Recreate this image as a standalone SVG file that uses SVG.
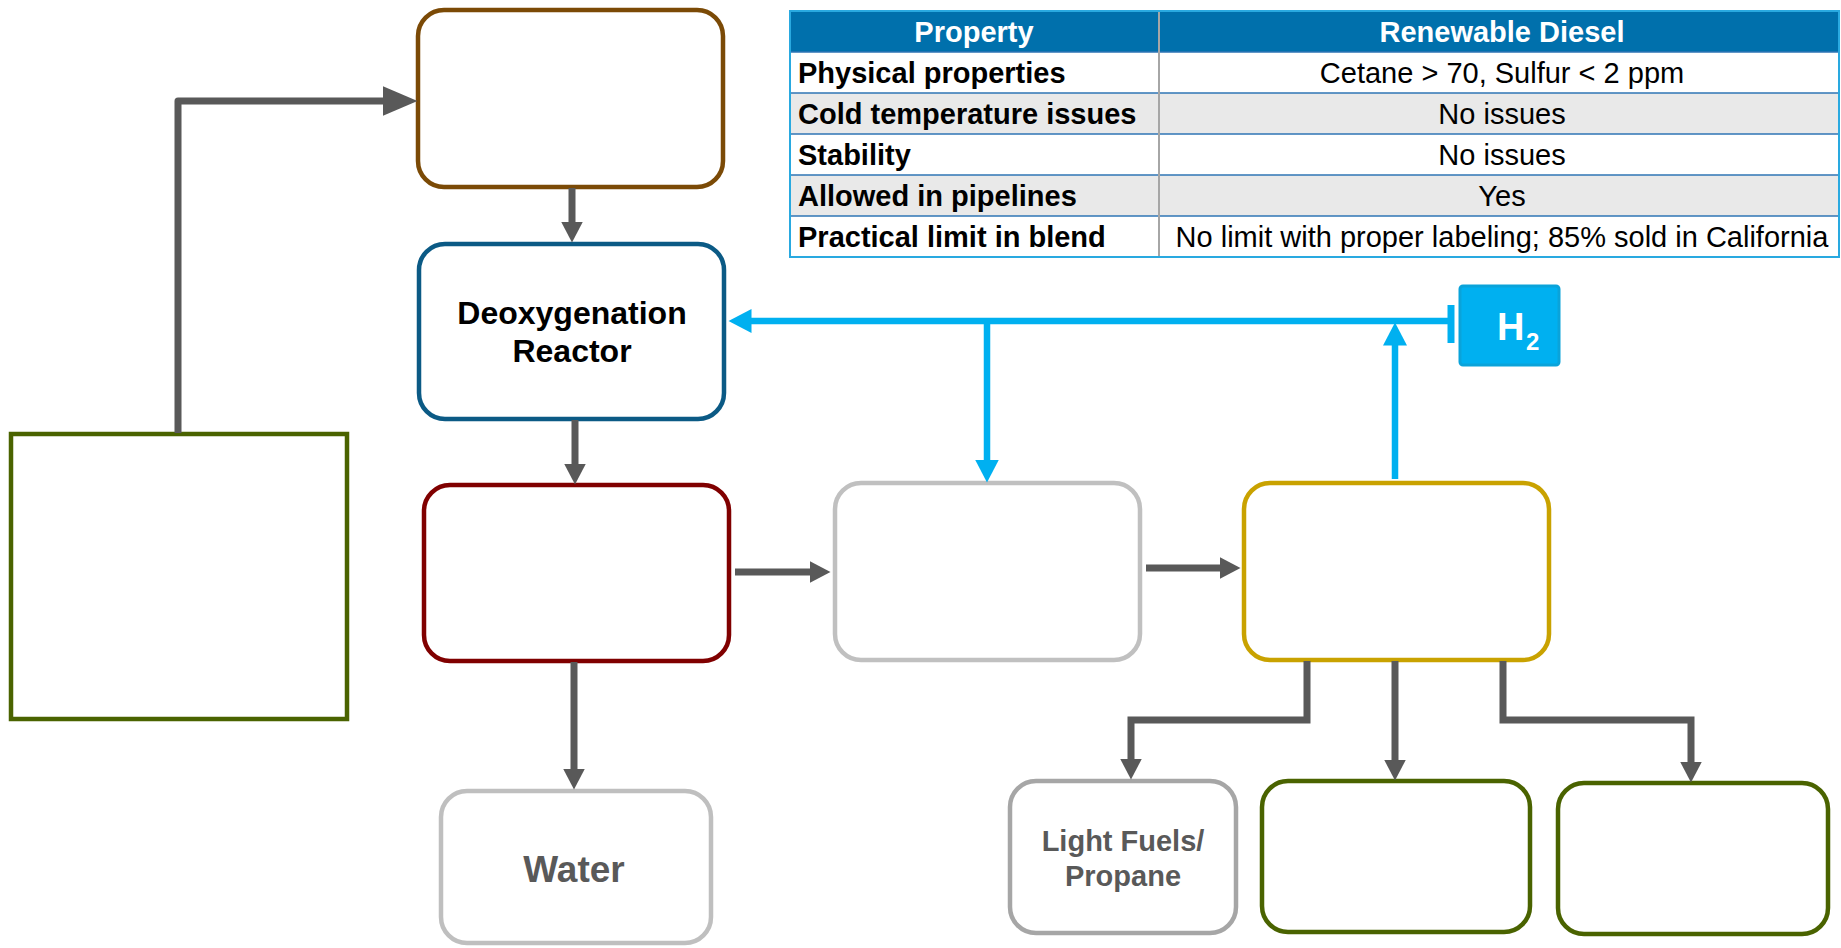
<svg xmlns="http://www.w3.org/2000/svg" width="1841" height="948" viewBox="0 0 1841 948">
<defs>
<style>
.box{fill:#fff;stroke-width:4.5}
.conn{fill:none;stroke:#595959;stroke-width:7}
.blue{fill:none;stroke:#00B0F0;stroke-width:6.5}
.t{font-family:"Liberation Sans",Arial,sans-serif}
.lbl{font-family:"Liberation Sans",Arial,sans-serif;font-weight:bold;text-anchor:middle}
.th{font-family:"Liberation Sans",Arial,sans-serif;font-weight:bold;font-size:29px;fill:#fff;text-anchor:middle}
.tl{font-family:"Liberation Sans",Arial,sans-serif;font-weight:bold;font-size:29px;fill:#000}
.tv{font-family:"Liberation Sans",Arial,sans-serif;font-size:29px;fill:#000;text-anchor:middle}
</style>
<marker id="ag" markerUnits="userSpaceOnUse" markerWidth="22" markerHeight="24" refX="0.5" refY="12" orient="auto"><path d="M0,1 L21,12 L0,23 Z" fill="#595959"/></marker>
<marker id="agb" markerUnits="userSpaceOnUse" markerWidth="36" markerHeight="32" refX="0.5" refY="16" orient="auto"><path d="M0,1 L35,16 L0,31 Z" fill="#595959"/></marker>
<marker id="ab" markerUnits="userSpaceOnUse" markerWidth="24" markerHeight="26" refX="0.5" refY="13" orient="auto"><path d="M0,1 L23,13 L0,25 Z" fill="#00B0F0"/></marker>
</defs>
<rect width="1841" height="948" fill="#fff"/>

<g id="table">
<rect x="790" y="11" width="1049" height="246" fill="#fff"/>
<rect x="790" y="11" width="1049" height="41" fill="#0070AC"/>
<rect x="790" y="93" width="1049" height="41" fill="#E9E9E9"/>
<rect x="790" y="175" width="1049" height="41" fill="#E9E9E9"/>
<g stroke="#2E74B5" stroke-width="1.5">
<line x1="790" y1="52" x2="1839" y2="52"/>
<line x1="790" y1="93" x2="1839" y2="93"/>
<line x1="790" y1="134" x2="1839" y2="134"/>
<line x1="790" y1="175" x2="1839" y2="175"/>
<line x1="790" y1="216" x2="1839" y2="216"/>
</g>
<line x1="1159" y1="11" x2="1159" y2="257" stroke="#A6A6A6" stroke-width="2"/>
<rect x="790" y="11" width="1049" height="246" fill="none" stroke="#29A9E0" stroke-width="2"/>
<text class="th" x="974" y="42">Property</text>
<text class="th" x="1502" y="42">Renewable Diesel</text>
<text class="tl" x="798" y="83">Physical properties</text>
<text class="tl" x="798" y="124">Cold temperature issues</text>
<text class="tl" x="798" y="165">Stability</text>
<text class="tl" x="798" y="206">Allowed in pipelines</text>
<text class="tl" x="798" y="247">Practical limit in blend</text>
<text class="tv" x="1502" y="83">Cetane &gt; 70, Sulfur &lt; 2 ppm</text>
<text class="tv" x="1502" y="124">No issues</text>
<text class="tv" x="1502" y="165">No issues</text>
<text class="tv" x="1502" y="206">Yes</text>
<text class="tv" x="1502" y="247">No limit with proper labeling; 85% sold in California</text>
</g>

<g id="feed"><rect x="11" y="434" width="336" height="285" fill="#fff" stroke="#4A6300" stroke-width="4.5"/></g>
<g id="pretreat"><rect class="box" x="418" y="10" width="305" height="177" rx="26" stroke="#7B4A06"/></g>
<g id="reactor"><rect class="box" x="419" y="244" width="305" height="175" rx="26" stroke="#0B5A85"/>
<text class="lbl" x="572" y="324" font-size="32" fill="#000">Deoxygenation</text>
<text class="lbl" x="572" y="362" font-size="32" fill="#000">Reactor</text></g>
<g id="separator"><rect class="box" x="424" y="485" width="305" height="176" rx="26" stroke="#800000"/></g>
<g id="isomer"><rect class="box" x="835" y="483" width="305" height="177" rx="26" stroke="#C0C0C0"/></g>
<g id="distill"><rect class="box" x="1244" y="483" width="305" height="177" rx="26" stroke="#C9A200"/></g>
<g id="water"><rect class="box" x="441" y="791" width="270" height="152" rx="26" stroke="#BFBFBF"/>
<text class="lbl" x="574" y="882" font-size="37" fill="#595959">Water</text></g>
<g id="light"><rect class="box" x="1010" y="781" width="226" height="152" rx="26" stroke="#A6A6A6"/>
<text class="lbl" x="1123" y="851" font-size="29" fill="#595959">Light Fuels/</text>
<text class="lbl" x="1123" y="886" font-size="29" fill="#595959">Propane</text></g>
<g id="product1"><rect class="box" x="1262" y="781" width="268" height="151" rx="26" stroke="#4A6300"/></g>
<g id="product2"><rect class="box" x="1558" y="783" width="270" height="151" rx="26" stroke="#4A6300"/></g>
<g id="h2"><rect x="1460" y="286" width="99" height="79" rx="3" fill="#00B0F0" stroke="#0AA3DA" stroke-width="3"/>
<text class="t" x="1497" y="340" font-size="38" font-weight="bold" fill="#fff">H</text>
<text class="t" x="1526" y="350" font-size="24" font-weight="bold" fill="#fff">2</text></g>

<g id="connectors">
<path class="conn" d="M178,433 V101 H383" stroke-width="12" stroke-linejoin="round" marker-end="url(#agb)"/>
<path class="conn" d="M572,188 V222" marker-end="url(#ag)"/>
<path class="conn" d="M575,420 V464" marker-end="url(#ag)"/>
<path class="conn" d="M574,662 V769" marker-end="url(#ag)"/>
<path class="conn" d="M735,572 H810" marker-end="url(#ag)"/>
<path class="conn" d="M1146,568 H1220" marker-end="url(#ag)"/>
<path class="conn" d="M1307,661 V720 H1131 V759" marker-end="url(#ag)"/>
<path class="conn" d="M1395,661 V760" marker-end="url(#ag)"/>
<path class="conn" d="M1503,661 V720 H1691 V762" marker-end="url(#ag)"/>
<path class="blue" d="M1452,321 H751" marker-end="url(#ab)"/>
<line x1="1451" y1="305" x2="1451" y2="343" stroke="#00B0F0" stroke-width="7"/>
<path class="blue" d="M987,321 V460" marker-end="url(#ab)"/>
<path class="blue" d="M1395,479 V345" marker-end="url(#ab)"/>
</g>
</svg>
